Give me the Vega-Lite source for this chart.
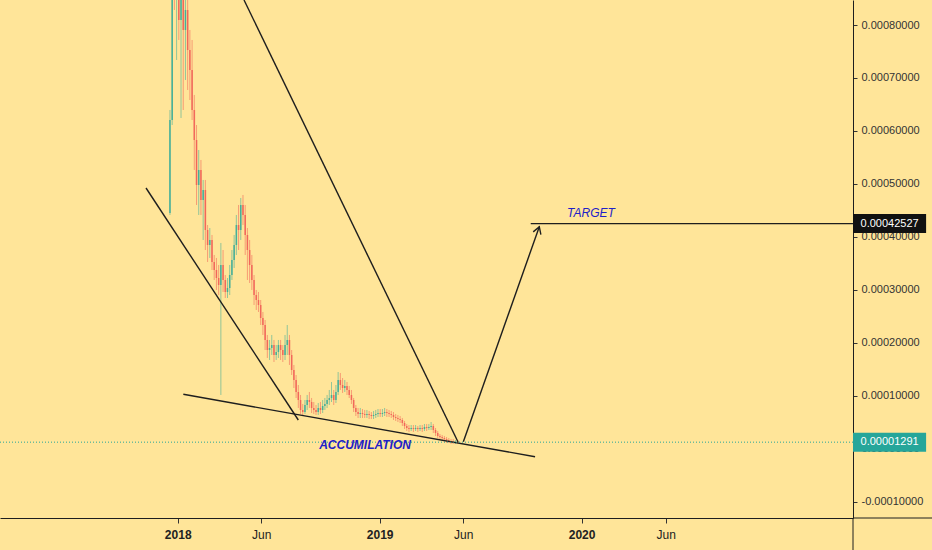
{
  "$schema": "https://vega.github.io/schema/vega-lite/v6.json",
  "width": 853,
  "height": 518,
  "autosize": "none",
  "padding": {"left": 0, "top": 0, "right": 79, "bottom": 32},
  "background": "#ffe599",
  "config": {"view": {"stroke": null}},
  "datasets": {
    "candles": [
      {"d":"2017-12-18","o":0.00044528,"h":0.00063963,"l":0.00044151,"c":0.00062076},
      {"d":"2017-12-22","o":0.00062076,"h":0.00103585,"l":0.00061132,"c":0.00096038},
      {"d":"2017-12-26","o":0.00096038,"h":0.00113019,"l":0.00082831,"c":0.00088491},
      {"d":"2017-12-30","o":0.00088491,"h":0.00109246,"l":0.00073397,"c":0.00099812},
      {"d":"2018-01-03","o":0.00099812,"h":0.00107359,"l":0.00077170,"c":0.00080944},
      {"d":"2018-01-07","o":0.00080944,"h":0.00101699,"l":0.00062453,"c":0.00090378},
      {"d":"2018-01-11","o":0.00090378,"h":0.00096038,"l":0.00063963,"c":0.00079057},
      {"d":"2018-01-15","o":0.00079057,"h":0.00088491,"l":0.00069623,"c":0.00082831},
      {"d":"2018-01-19","o":0.00082831,"h":0.00084717,"l":0.00067736,"c":0.00075283},
      {"d":"2018-01-23","o":0.00075283,"h":0.00079057,"l":0.00065849,"c":0.00071510},
      {"d":"2018-01-27","o":0.00071510,"h":0.00077170,"l":0.00062076,"c":0.00063963},
      {"d":"2018-01-31","o":0.00063963,"h":0.00066793,"l":0.00052642,"c":0.00058302},
      {"d":"2018-02-04","o":0.00058302,"h":0.00061132,"l":0.00046038,"c":0.00049812},
      {"d":"2018-02-08","o":0.00049812,"h":0.00056415,"l":0.00044151,"c":0.00052642},
      {"d":"2018-02-12","o":0.00052642,"h":0.00054529,"l":0.00044151,"c":0.00046981},
      {"d":"2018-02-16","o":0.00046981,"h":0.00050755,"l":0.00039434,"c":0.00048868},
      {"d":"2018-02-20","o":0.00048868,"h":0.00050755,"l":0.00037547,"c":0.00041321},
      {"d":"2018-02-24","o":0.00041321,"h":0.00042264,"l":0.00035283,"c":0.00038491},
      {"d":"2018-02-28","o":0.00038491,"h":0.00041698,"l":0.00036038,"c":0.00039434},
      {"d":"2018-03-04","o":0.00039434,"h":0.00040378,"l":0.00033774,"c":0.00035283},
      {"d":"2018-03-08","o":0.00035283,"h":0.00036604,"l":0.00031887,"c":0.00033774},
      {"d":"2018-03-12","o":0.00033774,"h":0.00036038,"l":0.00030000,"c":0.00032264},
      {"d":"2018-03-16","o":0.00032264,"h":0.00034717,"l":0.00029057,"c":0.00030944},
      {"d":"2018-03-20","o":0.00030944,"h":0.00038868,"l":0.00010189,"c":0.00034717},
      {"d":"2018-03-24","o":0.00034717,"h":0.00037547,"l":0.00029623,"c":0.00031887},
      {"d":"2018-03-28","o":0.00031887,"h":0.00032830,"l":0.00028491,"c":0.00029623},
      {"d":"2018-04-01","o":0.00029623,"h":0.00032264,"l":0.00028491,"c":0.00030377},
      {"d":"2018-04-05","o":0.00030377,"h":0.00034717,"l":0.00029057,"c":0.00032830},
      {"d":"2018-04-09","o":0.00032830,"h":0.00037547,"l":0.00031887,"c":0.00035661},
      {"d":"2018-04-13","o":0.00035661,"h":0.00040378,"l":0.00034151,"c":0.00038491},
      {"d":"2018-04-17","o":0.00038491,"h":0.00044151,"l":0.00036604,"c":0.00042264},
      {"d":"2018-04-21","o":0.00042264,"h":0.00046038,"l":0.00037547,"c":0.00041321},
      {"d":"2018-04-25","o":0.00041321,"h":0.00047359,"l":0.00039434,"c":0.00046038},
      {"d":"2018-04-29","o":0.00046038,"h":0.00047925,"l":0.00042264,"c":0.00044151},
      {"d":"2018-05-03","o":0.00044151,"h":0.00046038,"l":0.00036604,"c":0.00040378},
      {"d":"2018-05-07","o":0.00040378,"h":0.00041698,"l":0.00031887,"c":0.00037547},
      {"d":"2018-05-11","o":0.00037547,"h":0.00039434,"l":0.00031321,"c":0.00034717},
      {"d":"2018-05-15","o":0.00034717,"h":0.00036604,"l":0.00030000,"c":0.00031887},
      {"d":"2018-05-19","o":0.00031887,"h":0.00032830,"l":0.00027170,"c":0.00029057},
      {"d":"2018-05-23","o":0.00029057,"h":0.00030000,"l":0.00026227,"c":0.00028113},
      {"d":"2018-05-27","o":0.00028113,"h":0.00029623,"l":0.00025849,"c":0.00027170},
      {"d":"2018-05-31","o":0.00027170,"h":0.00028113,"l":0.00023396,"c":0.00024717},
      {"d":"2018-06-04","o":0.00024717,"h":0.00025849,"l":0.00021510,"c":0.00023396},
      {"d":"2018-06-08","o":0.00023396,"h":0.00024340,"l":0.00018679,"c":0.00020566},
      {"d":"2018-06-12","o":0.00020566,"h":0.00021510,"l":0.00017170,"c":0.00018679},
      {"d":"2018-06-16","o":0.00018679,"h":0.00020566,"l":0.00016793,"c":0.00019057},
      {"d":"2018-06-20","o":0.00019057,"h":0.00021510,"l":0.00017736,"c":0.00019623},
      {"d":"2018-06-24","o":0.00019623,"h":0.00020566,"l":0.00016415,"c":0.00017736},
      {"d":"2018-06-28","o":0.00017736,"h":0.00019623,"l":0.00016793,"c":0.00018302},
      {"d":"2018-07-02","o":0.00018302,"h":0.00020566,"l":0.00017170,"c":0.00019623},
      {"d":"2018-07-06","o":0.00019623,"h":0.00020566,"l":0.00016793,"c":0.00018679},
      {"d":"2018-07-10","o":0.00018679,"h":0.00019623,"l":0.00016415,"c":0.00017736},
      {"d":"2018-07-14","o":0.00017736,"h":0.00021510,"l":0.00016793,"c":0.00019623},
      {"d":"2018-07-18","o":0.00019623,"h":0.00023396,"l":0.00017736,"c":0.00020566},
      {"d":"2018-07-22","o":0.00020566,"h":0.00021510,"l":0.00015849,"c":0.00017736},
      {"d":"2018-07-26","o":0.00017736,"h":0.00018679,"l":0.00013962,"c":0.00014906},
      {"d":"2018-07-30","o":0.00014906,"h":0.00015849,"l":0.00011509,"c":0.00013019},
      {"d":"2018-08-03","o":0.00013019,"h":0.00013962,"l":0.00009623,"c":0.00010755},
      {"d":"2018-08-07","o":0.00010755,"h":0.00012075,"l":0.00007736,"c":0.00009245},
      {"d":"2018-08-11","o":0.00009245,"h":0.00010189,"l":0.00006604,"c":0.00007359},
      {"d":"2018-08-15","o":0.00007359,"h":0.00008491,"l":0.00006226,"c":0.00006981},
      {"d":"2018-08-19","o":0.00006981,"h":0.00009245,"l":0.00006604,"c":0.00008302},
      {"d":"2018-08-23","o":0.00008302,"h":0.00010189,"l":0.00007359,"c":0.00009245},
      {"d":"2018-08-27","o":0.00009245,"h":0.00010755,"l":0.00007736,"c":0.00008868},
      {"d":"2018-08-31","o":0.00008868,"h":0.00009623,"l":0.00006792,"c":0.00007736},
      {"d":"2018-09-04","o":0.00007736,"h":0.00008868,"l":0.00006604,"c":0.00007359},
      {"d":"2018-09-08","o":0.00007359,"h":0.00008302,"l":0.00006415,"c":0.00006981},
      {"d":"2018-09-12","o":0.00006981,"h":0.00008679,"l":0.00006415,"c":0.00007736},
      {"d":"2018-09-16","o":0.00007736,"h":0.00008868,"l":0.00006604,"c":0.00007359},
      {"d":"2018-09-20","o":0.00007359,"h":0.00009245,"l":0.00006792,"c":0.00008113},
      {"d":"2018-09-24","o":0.00008113,"h":0.00009623,"l":0.00007359,"c":0.00008491},
      {"d":"2018-09-28","o":0.00008491,"h":0.00010189,"l":0.00007736,"c":0.00009245},
      {"d":"2018-10-02","o":0.00009245,"h":0.00011132,"l":0.00008302,"c":0.00009623},
      {"d":"2018-10-06","o":0.00009623,"h":0.00012642,"l":0.00008868,"c":0.00010189},
      {"d":"2018-10-10","o":0.00010189,"h":0.00011132,"l":0.00008302,"c":0.00009245},
      {"d":"2018-10-14","o":0.00009245,"h":0.00012075,"l":0.00008679,"c":0.00010755},
      {"d":"2018-10-18","o":0.00010755,"h":0.00014528,"l":0.00010189,"c":0.00013019},
      {"d":"2018-10-22","o":0.00013019,"h":0.00014340,"l":0.00011132,"c":0.00012075},
      {"d":"2018-10-26","o":0.00012075,"h":0.00013396,"l":0.00010566,"c":0.00011509},
      {"d":"2018-10-30","o":0.00011509,"h":0.00013019,"l":0.00010755,"c":0.00011887},
      {"d":"2018-11-03","o":0.00011887,"h":0.00012642,"l":0.00010189,"c":0.00011132},
      {"d":"2018-11-07","o":0.00011132,"h":0.00011887,"l":0.00009623,"c":0.00010189},
      {"d":"2018-11-11","o":0.00010189,"h":0.00011132,"l":0.00008491,"c":0.00009245},
      {"d":"2018-11-15","o":0.00009245,"h":0.00009623,"l":0.00006981,"c":0.00007736},
      {"d":"2018-11-19","o":0.00007736,"h":0.00008302,"l":0.00006226,"c":0.00006981},
      {"d":"2018-11-23","o":0.00006981,"h":0.00007736,"l":0.00005849,"c":0.00006604},
      {"d":"2018-11-27","o":0.00006604,"h":0.00007736,"l":0.00005849,"c":0.00006792},
      {"d":"2018-12-01","o":0.00006792,"h":0.00007547,"l":0.00005849,"c":0.00006604},
      {"d":"2018-12-05","o":0.00006604,"h":0.00007359,"l":0.00005849,"c":0.00006415},
      {"d":"2018-12-09","o":0.00006415,"h":0.00007359,"l":0.00005849,"c":0.00006604},
      {"d":"2018-12-13","o":0.00006604,"h":0.00007170,"l":0.00005660,"c":0.00006415},
      {"d":"2018-12-17","o":0.00006415,"h":0.00006981,"l":0.00005660,"c":0.00006226},
      {"d":"2018-12-21","o":0.00006226,"h":0.00007170,"l":0.00005660,"c":0.00006415},
      {"d":"2018-12-25","o":0.00006415,"h":0.00007359,"l":0.00005849,"c":0.00006604},
      {"d":"2018-12-29","o":0.00006604,"h":0.00007547,"l":0.00006038,"c":0.00006792},
      {"d":"2019-01-02","o":0.00006792,"h":0.00007547,"l":0.00006038,"c":0.00006604},
      {"d":"2019-01-06","o":0.00006604,"h":0.00007547,"l":0.00006038,"c":0.00006792},
      {"d":"2019-01-10","o":0.00006792,"h":0.00007736,"l":0.00006226,"c":0.00006981},
      {"d":"2019-01-14","o":0.00006981,"h":0.00007547,"l":0.00006038,"c":0.00006792},
      {"d":"2019-01-18","o":0.00006792,"h":0.00007359,"l":0.00006038,"c":0.00006604},
      {"d":"2019-01-22","o":0.00006604,"h":0.00007170,"l":0.00005849,"c":0.00006415},
      {"d":"2019-01-26","o":0.00006415,"h":0.00006981,"l":0.00005472,"c":0.00006038},
      {"d":"2019-01-30","o":0.00006038,"h":0.00006604,"l":0.00005283,"c":0.00005849},
      {"d":"2019-02-03","o":0.00005849,"h":0.00006415,"l":0.00005094,"c":0.00005660},
      {"d":"2019-02-07","o":0.00005660,"h":0.00006226,"l":0.00004906,"c":0.00005472},
      {"d":"2019-02-11","o":0.00005472,"h":0.00005849,"l":0.00004340,"c":0.00004906},
      {"d":"2019-02-15","o":0.00004906,"h":0.00005283,"l":0.00003774,"c":0.00004340},
      {"d":"2019-02-19","o":0.00004340,"h":0.00004717,"l":0.00003396,"c":0.00003962},
      {"d":"2019-02-23","o":0.00003962,"h":0.00004528,"l":0.00003208,"c":0.00003774},
      {"d":"2019-02-27","o":0.00003774,"h":0.00004528,"l":0.00003396,"c":0.00003962},
      {"d":"2019-03-03","o":0.00003962,"h":0.00004528,"l":0.00003208,"c":0.00003774},
      {"d":"2019-03-07","o":0.00003774,"h":0.00004528,"l":0.00003396,"c":0.00003962},
      {"d":"2019-03-11","o":0.00003962,"h":0.00004340,"l":0.00003208,"c":0.00003774},
      {"d":"2019-03-15","o":0.00003774,"h":0.00004528,"l":0.00003396,"c":0.00003962},
      {"d":"2019-03-19","o":0.00003962,"h":0.00004528,"l":0.00003208,"c":0.00003774},
      {"d":"2019-03-23","o":0.00003774,"h":0.00004717,"l":0.00003396,"c":0.00004151},
      {"d":"2019-03-27","o":0.00004151,"h":0.00004717,"l":0.00003396,"c":0.00003962},
      {"d":"2019-03-31","o":0.00003962,"h":0.00004717,"l":0.00003585,"c":0.00004151},
      {"d":"2019-04-04","o":0.00004151,"h":0.00005094,"l":0.00003585,"c":0.00004340},
      {"d":"2019-04-08","o":0.00004340,"h":0.00004717,"l":0.00003019,"c":0.00003585},
      {"d":"2019-04-12","o":0.00003585,"h":0.00003962,"l":0.00002453,"c":0.00003019},
      {"d":"2019-04-16","o":0.00003019,"h":0.00003396,"l":0.00002075,"c":0.00002453},
      {"d":"2019-04-20","o":0.00002453,"h":0.00002830,"l":0.00001698,"c":0.00002264},
      {"d":"2019-04-24","o":0.00002264,"h":0.00002642,"l":0.00001509,"c":0.00002075},
      {"d":"2019-04-28","o":0.00002075,"h":0.00002453,"l":0.00001321,"c":0.00001887},
      {"d":"2019-05-02","o":0.00001887,"h":0.00002264,"l":0.00001132,"c":0.00001698},
      {"d":"2019-05-06","o":0.00001698,"h":0.00002075,"l":0.00001132,"c":0.00001509},
      {"d":"2019-05-10","o":0.00001509,"h":0.00001887,"l":0.00000943,"c":0.00001480},
      {"d":"2019-05-14","o":0.00001480,"h":0.00001887,"l":0.00000943,"c":0.00001321},
      {"d":"2019-05-18","o":0.00001321,"h":0.00001698,"l":0.00000943,"c":0.00001350},
      {"d":"2019-05-22","o":0.00001350,"h":0.00001698,"l":0.00001040,"c":0.00001291}
    ],
    "segs": [
      {"id":"wedge_top","k":0,"d":"2018-04-30T20:00:00Z","v":0.00084717},
      {"id":"wedge_top","k":1,"d":"2019-05-22T17:00:00Z","v":0.00001321},
      {"id":"wedge_left","k":0,"d":"2017-11-04T17:00:00Z","v":0.00049245},
      {"id":"wedge_left","k":1,"d":"2018-08-07T00:00:00Z","v":0.00005472},
      {"id":"support","k":0,"d":"2018-01-11T03:00:00Z","v":0.00010321},
      {"id":"support","k":1,"d":"2019-10-08T22:00:00Z","v":-0.00001453},
      {"id":"arrow","k":0,"d":"2019-06-01T07:00:00Z","v":0.00001377},
      {"id":"arrow","k":1,"d":"2019-10-16T14:00:00Z","v":0.00041944},
      {"id":"head","k":0,"d":"2019-10-05T14:00:00Z","v":0.00040962},
      {"id":"head","k":1,"d":"2019-10-16T14:00:00Z","v":0.00041944},
      {"id":"head","k":2,"d":"2019-10-19T10:00:00Z","v":0.00040453},
      {"id":"target","k":0,"d":"2019-10-01T02:00:00Z","v":0.00042527},
      {"id":"target","k":1,"d":"2021-05-05T14:00:00Z","v":0.00042527}
    ],
    "tags": [
      {"k":"target","d":"2021-05-05T14:00:00Z","d2":"2021-09-14T17:00:00Z","v":0.00044321,"v2":0.00040736,"tc":"2021-07-10T17:00:00Z","tv":0.00042527,"t":"0.00042527"},
      {"k":"last","d":"2021-05-05T14:00:00Z","d2":"2021-09-14T17:00:00Z","v":0.00003075,"v2":-0.00000509,"tc":"2021-07-10T17:00:00Z","tv":0.00001291,"t":"0.00001291"}
    ],
    "ext": [
      {"d":"2021-05-05T14:00:00Z","d2":"2021-09-25T12:00:00Z","v":-0.00013019,"v2":-0.00013019},
      {"d":"2021-05-05T14:00:00Z","d2":"2021-05-05T14:00:00Z","v":-0.00013019,"v2":-0.00019057}
    ]
  },
  "layer": [
    {
      "data": {"name": "candles"},
      "mark": {"type": "rule", "clip": true, "strokeWidth": 1, "opacity": 0.5},
      "encoding": {
        "x": {
          "field": "d", "type": "temporal", "title": null,
          "scale": {"type": "utc", "padding": 0, "domain": [{"year": 2017, "month": 2, "date": 13, "hours": 19, "utc": true}, {"year": 2021, "month": 5, "date": 5, "hours": 14, "utc": true}]},
          "axis": {
            "orient": "bottom", "grid": false,
            "values": [
              {"year": 2018, "month": 1, "date": 1, "utc": true},
              {"year": 2018, "month": 6, "date": 1, "utc": true},
              {"year": 2019, "month": 1, "date": 1, "utc": true},
              {"year": 2019, "month": 6, "date": 1, "utc": true},
              {"year": 2020, "month": 1, "date": 1, "utc": true},
              {"year": 2020, "month": 6, "date": 1, "utc": true}
            ],
            "labelExpr": "utcmonth(datum.value) == 0 ? utcFormat(datum.value, '%Y') : utcFormat(datum.value, '%b')",
            "labelFont": "Liberation Sans, sans-serif",
            "labelFontSize": 12,
            "labelFontWeight": {"condition": {"test": "utcmonth(datum.value) == 0", "value": "bold"}, "value": "normal"},
            "labelColor": "#222222",
            "labelPadding": 6,
            "tickSize": 5,
            "tickColor": "#333333",
            "domainColor": "#1e1e1e",
            "labelFlush": false
          }
        },
        "y": {
          "field": "l", "type": "quantitative", "title": null,
          "scale": {"domain": [-0.00013019, 0.00084717], "zero": false, "nice": false, "padding": 0},
          "axis": {
            "orient": "right", "grid": false,
            "values": [-0.0001, 0, 0.0001, 0.0002, 0.0003, 0.0004, 0.0005, 0.0006, 0.0007, 0.0008],
            "labelExpr": "replace(format(datum.value, '.8f'), '\u2212', '-')",
            "labelFont": "Liberation Sans, sans-serif",
            "labelFontSize": 11,
            "labelColor": "#333333",
            "labelPadding": 4,
            "tickSize": 4,
            "tickColor": "#333333",
            "domainColor": "#1e1e1e",
            "labelBaseline": "middle",
            "labelFlush": false,
            "labelOverlap": false
          }
        },
        "y2": {"field": "h"},
        "color": {"condition": {"test": "datum.c >= datum.o", "value": "#26a69a"}, "value": "#ef5350"}
      }
    },
    {
      "data": {"name": "candles"},
      "mark": {"type": "bar", "clip": true, "width": 1.6, "opacity": 0.75},
      "encoding": {
        "x": {"field": "d", "type": "temporal", "title": null, "scale": {"type": "utc", "padding": 0, "domain": [{"year": 2017, "month": 2, "date": 13, "hours": 19, "utc": true}, {"year": 2021, "month": 5, "date": 5, "hours": 14, "utc": true}]}},
        "y": {"field": "o", "type": "quantitative", "title": null, "scale": {"domain": [-0.00013019, 0.00084717], "zero": false, "nice": false, "padding": 0}},
        "y2": {"field": "c"},
        "color": {"condition": {"test": "datum.c >= datum.o", "value": "#26a69a"}, "value": "#ef5350"}
      }
    },
    {
      "data": {"name": "segs"},
      "mark": {"type": "line", "clip": true, "color": "#1e1e1e", "strokeWidth": 1.4},
      "encoding": {
        "x": {"field": "d", "type": "temporal", "title": null, "scale": {"type": "utc", "padding": 0, "domain": [{"year": 2017, "month": 2, "date": 13, "hours": 19, "utc": true}, {"year": 2021, "month": 5, "date": 5, "hours": 14, "utc": true}]}},
        "y": {"field": "v", "type": "quantitative", "title": null, "scale": {"domain": [-0.00013019, 0.00084717], "zero": false, "nice": false, "padding": 0}},
        "detail": {"field": "id"},
        "order": {"field": "k"}
      }
    },
    {
      "data": {"values": [{"p": 0.00001291}]},
      "mark": {"type": "rule", "color": "#26a69a", "strokeWidth": 1, "strokeDash": [1, 2]},
      "encoding": {
        "y": {"field": "p", "type": "quantitative", "title": null, "scale": {"domain": [-0.00013019, 0.00084717], "zero": false, "nice": false, "padding": 0}}
      }
    },
    {
      "data": {"values": [{"d": "2020-01-18T00:00:00Z", "v": 0.00044584, "t": "TARGET"}]},
      "mark": {"type": "text", "font": "Liberation Sans, sans-serif", "fontSize": 12, "fontStyle": "italic", "color": "#2020c8", "align": "center", "baseline": "middle"},
      "encoding": {
        "x": {"field": "d", "type": "temporal", "title": null, "scale": {"type": "utc", "padding": 0, "domain": [{"year": 2017, "month": 2, "date": 13, "hours": 19, "utc": true}, {"year": 2021, "month": 5, "date": 5, "hours": 14, "utc": true}]}},
        "y": {"field": "v", "type": "quantitative", "title": null, "scale": {"domain": [-0.00013019, 0.00084717], "zero": false, "nice": false, "padding": 0}},
        "text": {"field": "t"}
      }
    },
    {
      "data": {"values": [{"d": "2018-12-05T14:00:00Z", "v": 0.00000755, "t": "ACCUMILATION"}]},
      "mark": {"type": "text", "font": "Liberation Sans, sans-serif", "fontSize": 12, "fontStyle": "italic", "fontWeight": "bold", "color": "#2020c8", "align": "center", "baseline": "middle"},
      "encoding": {
        "x": {"field": "d", "type": "temporal", "title": null, "scale": {"type": "utc", "padding": 0, "domain": [{"year": 2017, "month": 2, "date": 13, "hours": 19, "utc": true}, {"year": 2021, "month": 5, "date": 5, "hours": 14, "utc": true}]}},
        "y": {"field": "v", "type": "quantitative", "title": null, "scale": {"domain": [-0.00013019, 0.00084717], "zero": false, "nice": false, "padding": 0}},
        "text": {"field": "t"}
      }
    },
    {
      "data": {"name": "ext"},
      "mark": {"type": "rule", "color": "#1e1e1e", "strokeWidth": 1},
      "encoding": {
        "x": {"field": "d", "type": "temporal", "title": null, "scale": {"type": "utc", "padding": 0, "domain": [{"year": 2017, "month": 2, "date": 13, "hours": 19, "utc": true}, {"year": 2021, "month": 5, "date": 5, "hours": 14, "utc": true}]}},
        "x2": {"field": "d2"},
        "y": {"field": "v", "type": "quantitative", "title": null, "scale": {"domain": [-0.00013019, 0.00084717], "zero": false, "nice": false, "padding": 0}},
        "y2": {"field": "v2"}
      }
    },
    {
      "data": {"name": "tags"},
      "mark": {"type": "rect"},
      "encoding": {
        "x": {"field": "d", "type": "temporal", "title": null, "scale": {"type": "utc", "padding": 0, "domain": [{"year": 2017, "month": 2, "date": 13, "hours": 19, "utc": true}, {"year": 2021, "month": 5, "date": 5, "hours": 14, "utc": true}]}},
        "x2": {"field": "d2"},
        "y": {"field": "v", "type": "quantitative", "title": null, "scale": {"domain": [-0.00013019, 0.00084717], "zero": false, "nice": false, "padding": 0}},
        "y2": {"field": "v2"},
        "color": {"field": "k", "type": "nominal", "scale": {"domain": ["target", "last"], "range": ["#111111", "#26a69a"]}, "legend": null}
      }
    },
    {
      "data": {"name": "tags"},
      "mark": {"type": "text", "font": "Liberation Sans, sans-serif", "fontSize": 11, "color": "#ffffff", "align": "center", "baseline": "middle"},
      "encoding": {
        "x": {"field": "tc", "type": "temporal", "title": null, "scale": {"type": "utc", "padding": 0, "domain": [{"year": 2017, "month": 2, "date": 13, "hours": 19, "utc": true}, {"year": 2021, "month": 5, "date": 5, "hours": 14, "utc": true}]}},
        "y": {"field": "tv", "type": "quantitative", "title": null, "scale": {"domain": [-0.00013019, 0.00084717], "zero": false, "nice": false, "padding": 0}},
        "text": {"field": "t"}
      }
    }
  ]
}
